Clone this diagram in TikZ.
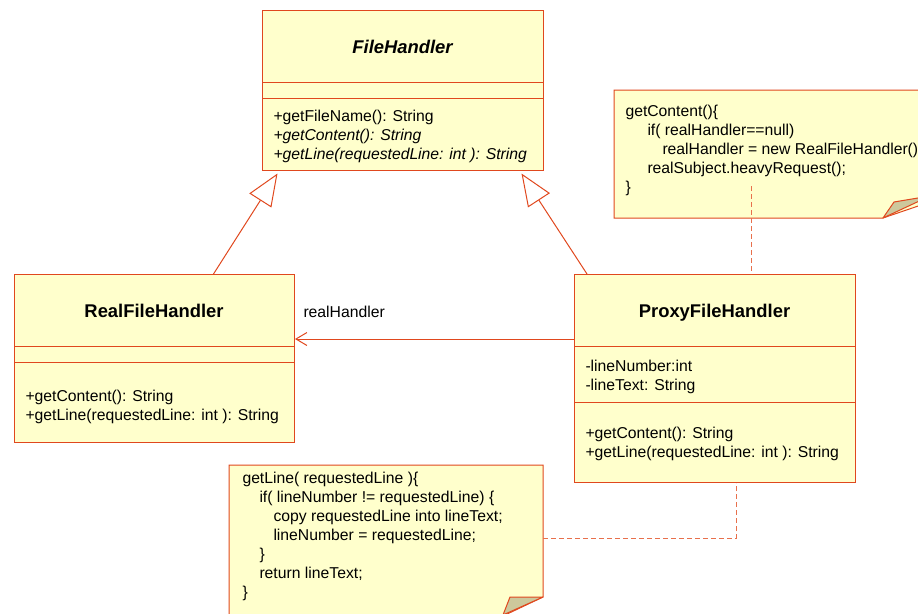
\documentclass[tikz,border=0pt]{standalone}
\usepackage{fontspec}
\setmainfont{Liberation Sans}
\usetikzlibrary{arrows.meta,calc}

\definecolor{umlred}{HTML}{E0481E}
\definecolor{umlfill}{HTML}{FFFFCC}
\definecolor{umlfold}{HTML}{CDC89C}
\definecolor{umldash}{HTML}{E8704C}

\begin{document}
\begin{tikzpicture}[x=0.75pt,y=-0.75pt,line width=0.75pt,
  class box/.style={draw=umlred,fill=umlfill,anchor=north west,inner sep=0pt},
  class name/.style={anchor=base,inner sep=0pt,
    font=\fontsize{13.8}{16}\selectfont\bfseries},
  member/.style={anchor=base west,inner sep=0pt,
    font=\fontsize{11.8}{14}\selectfont},
  note body/.style={draw=umlred,fill=umlfill},
  note fold/.style={draw=umlred,fill=umlfold,line join=round},
  note link/.style={draw=umldash,dash pattern=on 3.75pt off 2.25pt},
  inherit/.style={draw=umlred,-{Triangle[open,length=24pt,width=19.5pt]}},
  assoc/.style={draw=umlred,-{Straight Barb[length=8.25pt,width=9.75pt]}}]

  \clip (0,0) rectangle (918,614);

  % notes (the top one runs past the right edge)
  \path[note body] (614,90) -- (930,90) -- (930,202) -- (883,218)
    -- (614,218) -- cycle;
  \path[note fold] (883,218) -- (894,202) -- (930,196) -- cycle;
  \path[note body] (229,465) -- (543,465) -- (543,597) -- (503,616)
    -- (229,616) -- cycle;
  \path[note fold] (543,597) -- (510,597) -- (503,615) -- cycle;

  \foreach \tx/\ty/\txt [count=\i] in {625/116/{getContent()\{},
      647/135/{if( realHandler==null)},
      662/154/{realHandler = new RealFileHandler();},
      647/173/{realSubject.heavyRequest();},
      625/192/{\}}}
    \node[member] (n1-\i) at (\tx,\ty) {\txt};

  \foreach \tx/\ty/\txt [count=\i] in {242/483/{getLine( requestedLine )\{},
      259/502/{if( lineNumber != requestedLine) \{},
      273/521/{copy requestedLine into lineText;},
      273/540/{lineNumber = requestedLine;},
      259/559/{\}},
      259/578/{return lineText;},
      242/597/{\}}}
    \node[member] (n2-\i) at (\tx,\ty) {\txt};

  % classes
  \node[class box,minimum width=210.75pt,minimum height=120pt] (fh) at (262,10) {};
  \node[class box,minimum width=210pt,minimum height=126pt] (real) at (14,274) {};
  \node[class box,minimum width=210.75pt,minimum height=156pt] (proxy) at (574,274) {};

  \draw[umlred] ($(fh.north west)+(0,72.5)$) -- ($(fh.north east)+(0,72.5)$);
  \draw[umlred] ($(fh.north west)+(0,88.3)$) -- ($(fh.north east)+(0,88.3)$);
  \draw[umlred] ($(real.north west)+(0,72)$) -- ($(real.north east)+(0,72)$);
  \draw[umlred] ($(real.north west)+(0,88)$) -- ($(real.north east)+(0,88)$);
  \draw[umlred] ($(proxy.north west)+(0,72)$) -- ($(proxy.north east)+(0,72)$);
  \draw[umlred] ($(proxy.north west)+(0,128)$) -- ($(proxy.north east)+(0,128)$);

  \node[class name,font=\fontsize{13.8}{16}\selectfont\bfseries\itshape]
    (fh-name) at (402.5,53) {FileHandler};
  \node[class name] (real-name) at (154,317) {RealFileHandler};
  \node[class name] (proxy-name) at (714.5,317) {ProxyFileHandler};

  \node[member] (fh-1) at (273,121) {+getFileName(): String};
  \node[member,font=\fontsize{11.8}{14}\selectfont\itshape]
    (fh-2) at (273,140) {+getContent(): String};
  \node[member,font=\fontsize{11.8}{14}\selectfont\itshape]
    (fh-3) at (273,159) {+getLine(requestedLine: int ): String};

  \node[member] (real-1) at (25,401) {+getContent(): String};
  \node[member] (real-2) at (25,420) {+getLine(requestedLine: int ): String};

  \node[member] (proxy-1) at (585,371) {-lineNumber:int};
  \node[member] (proxy-2) at (585,390) {-lineText: String};
  \node[member] (proxy-3) at (585,438) {+getContent(): String};
  \node[member] (proxy-4) at (585,457) {+getLine(requestedLine: int ): String};

  % connectors
  \draw[inherit] ($(real.north)+(59,0)$) -- ($(fh.south)+(-125.5,2.5)$);
  \draw[inherit] ($(proxy.north west)+(13,0)$) -- ($(fh.south)+(118.5,2.5)$);
  \draw[assoc] ($(proxy.north west)+(0,65)$) -- ($(real.north east)+(0,65)$);
  \node[member] (assoc-name) at (303,317) {realHandler};

  \coordinate (link-a) at (751,186);
  \coordinate (link-b) at (543,538);
  \draw[note link] (link-a) -- ($(proxy.north west)+(177,0)$);
  \draw[note link] (link-b) -| ($(proxy.south west)+(162,0)$);

\end{tikzpicture}
\end{document}
